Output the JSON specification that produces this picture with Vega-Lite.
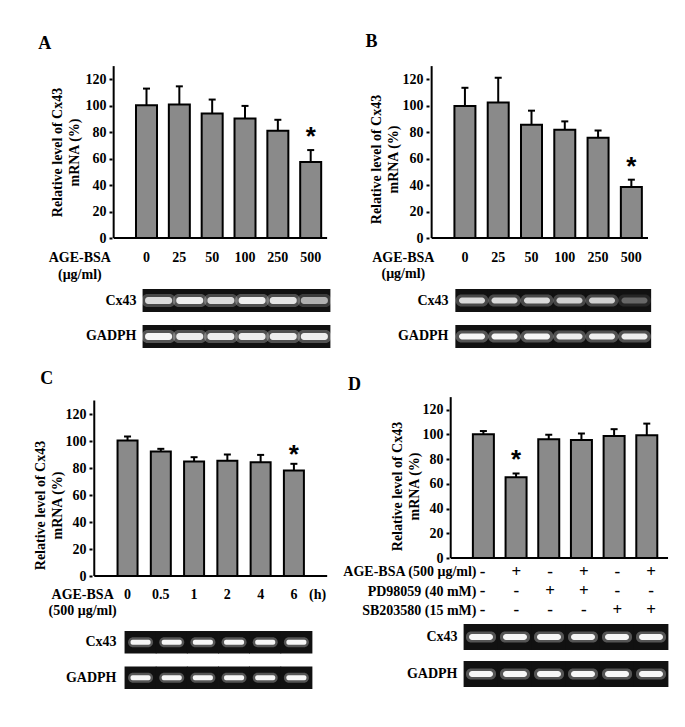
{
  "$schema": "https://vega.github.io/schema/vega-lite/v6.json",
  "background": "white",
  "autosize": {"type": "pad"},
  "padding": 0,
  "config": {
    "view": {"stroke": null},
    "font": "Liberation Serif",
    "axis": {"grid": false, "domainColor": "black", "domainWidth": 2, "tickColor": "black", "tickWidth": 2, "labelColor": "black", "labelFont": "Liberation Serif", "labelFontWeight": "bold", "labelOverlap": false, "titleColor": "black", "titleFont": "Liberation Serif", "titleFontWeight": "bold"},
    "text": {"font": "Liberation Serif", "fontWeight": "bold", "fontSize": 14, "color": "black"}
  },
  "datasets": {
    "barsA": [
      {"pos": 1, "label": "0", "mean": 100.4, "err": 113, "sig": ""},
      {"pos": 2, "label": "25", "mean": 100.9, "err": 114.7, "sig": ""},
      {"pos": 3, "label": "50", "mean": 94.1, "err": 104.7, "sig": ""},
      {"pos": 4, "label": "100", "mean": 90.4, "err": 99.9, "sig": ""},
      {"pos": 5, "label": "250", "mean": 81.1, "err": 89.4, "sig": ""},
      {"pos": 6, "label": "500", "mean": 57.5, "err": 66.5, "sig": "*"}
    ],
    "barsB": [
      {"pos": 1, "label": "0", "mean": 99.9, "err": 113.6, "sig": ""},
      {"pos": 2, "label": "25", "mean": 102.4, "err": 121.2, "sig": ""},
      {"pos": 3, "label": "50", "mean": 85.7, "err": 96.3, "sig": ""},
      {"pos": 4, "label": "100", "mean": 81.8, "err": 88.2, "sig": ""},
      {"pos": 5, "label": "250", "mean": 75.9, "err": 81.3, "sig": ""},
      {"pos": 6, "label": "500", "mean": 38.5, "err": 44.1, "sig": "*"}
    ],
    "barsC": [
      {"pos": 1, "label": "0", "mean": 100.3, "err": 103.3, "sig": ""},
      {"pos": 2, "label": "0.5", "mean": 92.2, "err": 94.2, "sig": ""},
      {"pos": 3, "label": "1", "mean": 84.8, "err": 88, "sig": ""},
      {"pos": 4, "label": "2", "mean": 85.3, "err": 90, "sig": ""},
      {"pos": 5, "label": "4", "mean": 84.3, "err": 89.7, "sig": ""},
      {"pos": 6, "label": "6", "mean": 78.2, "err": 83.1, "sig": "*"}
    ],
    "barsD": [
      {"pos": 1, "mean": 100.1, "err": 102.6, "sig": ""},
      {"pos": 2, "mean": 65.3, "err": 68.3, "sig": "*"},
      {"pos": 3, "mean": 96, "err": 99.6, "sig": ""},
      {"pos": 4, "mean": 95.3, "err": 100.6, "sig": ""},
      {"pos": 5, "mean": 98.6, "err": 104.1, "sig": ""},
      {"pos": 6, "mean": 99.1, "err": 108.6, "sig": ""}
    ],
    "treatD": [
      {"row": "AGE-BSA (500 μg/ml)", "pos": 1, "sign": "-"},
      {"row": "AGE-BSA (500 μg/ml)", "pos": 2, "sign": "+"},
      {"row": "AGE-BSA (500 μg/ml)", "pos": 3, "sign": "-"},
      {"row": "AGE-BSA (500 μg/ml)", "pos": 4, "sign": "+"},
      {"row": "AGE-BSA (500 μg/ml)", "pos": 5, "sign": "-"},
      {"row": "AGE-BSA (500 μg/ml)", "pos": 6, "sign": "+"},
      {"row": "PD98059 (40 mM)", "pos": 1, "sign": "-"},
      {"row": "PD98059 (40 mM)", "pos": 2, "sign": "-"},
      {"row": "PD98059 (40 mM)", "pos": 3, "sign": "+"},
      {"row": "PD98059 (40 mM)", "pos": 4, "sign": "+"},
      {"row": "PD98059 (40 mM)", "pos": 5, "sign": "-"},
      {"row": "PD98059 (40 mM)", "pos": 6, "sign": "-"},
      {"row": "SB203580 (15 mM)", "pos": 1, "sign": "-"},
      {"row": "SB203580 (15 mM)", "pos": 2, "sign": "-"},
      {"row": "SB203580 (15 mM)", "pos": 3, "sign": "-"},
      {"row": "SB203580 (15 mM)", "pos": 4, "sign": "-"},
      {"row": "SB203580 (15 mM)", "pos": 5, "sign": "+"},
      {"row": "SB203580 (15 mM)", "pos": 6, "sign": "+"}
    ],
    "gelA": [
      {"gene": "Cx43", "lane": 1, "intensity": 0.8}, {"gene": "Cx43", "lane": 2, "intensity": 0.9}, {"gene": "Cx43", "lane": 3, "intensity": 0.8},
      {"gene": "Cx43", "lane": 4, "intensity": 0.9}, {"gene": "Cx43", "lane": 5, "intensity": 0.85}, {"gene": "Cx43", "lane": 6, "intensity": 0.6},
      {"gene": "GADPH", "lane": 1, "intensity": 0.95}, {"gene": "GADPH", "lane": 2, "intensity": 0.9}, {"gene": "GADPH", "lane": 3, "intensity": 0.9},
      {"gene": "GADPH", "lane": 4, "intensity": 0.9}, {"gene": "GADPH", "lane": 5, "intensity": 0.9}, {"gene": "GADPH", "lane": 6, "intensity": 0.9}
    ],
    "gelB": [
      {"gene": "Cx43", "lane": 1, "intensity": 0.8}, {"gene": "Cx43", "lane": 2, "intensity": 0.8}, {"gene": "Cx43", "lane": 3, "intensity": 0.8},
      {"gene": "Cx43", "lane": 4, "intensity": 0.75}, {"gene": "Cx43", "lane": 5, "intensity": 0.75}, {"gene": "Cx43", "lane": 6, "intensity": 0.3},
      {"gene": "GADPH", "lane": 1, "intensity": 0.95}, {"gene": "GADPH", "lane": 2, "intensity": 0.95}, {"gene": "GADPH", "lane": 3, "intensity": 0.95},
      {"gene": "GADPH", "lane": 4, "intensity": 0.9}, {"gene": "GADPH", "lane": 5, "intensity": 0.9}, {"gene": "GADPH", "lane": 6, "intensity": 0.9}
    ],
    "gelC": [
      {"gene": "Cx43", "lane": 1, "intensity": 0.95}, {"gene": "Cx43", "lane": 2, "intensity": 0.95}, {"gene": "Cx43", "lane": 3, "intensity": 0.95},
      {"gene": "Cx43", "lane": 4, "intensity": 0.95}, {"gene": "Cx43", "lane": 5, "intensity": 0.95}, {"gene": "Cx43", "lane": 6, "intensity": 0.95},
      {"gene": "GADPH", "lane": 1, "intensity": 0.95}, {"gene": "GADPH", "lane": 2, "intensity": 0.95}, {"gene": "GADPH", "lane": 3, "intensity": 0.95},
      {"gene": "GADPH", "lane": 4, "intensity": 0.95}, {"gene": "GADPH", "lane": 5, "intensity": 0.95}, {"gene": "GADPH", "lane": 6, "intensity": 0.95}
    ],
    "gelD": [
      {"gene": "Cx43", "lane": 1, "intensity": 0.95}, {"gene": "Cx43", "lane": 2, "intensity": 0.95}, {"gene": "Cx43", "lane": 3, "intensity": 0.95},
      {"gene": "Cx43", "lane": 4, "intensity": 0.95}, {"gene": "Cx43", "lane": 5, "intensity": 0.95}, {"gene": "Cx43", "lane": 6, "intensity": 0.95},
      {"gene": "GADPH", "lane": 1, "intensity": 0.95}, {"gene": "GADPH", "lane": 2, "intensity": 0.95}, {"gene": "GADPH", "lane": 3, "intensity": 0.95},
      {"gene": "GADPH", "lane": 4, "intensity": 0.95}, {"gene": "GADPH", "lane": 5, "intensity": 0.95}, {"gene": "GADPH", "lane": 6, "intensity": 0.95}
    ]
  },
  "spacing": 12,
  "bounds": "full",
  "vconcat": [
    {
      "spacing": 15,
      "bounds": "full",
      "hconcat": [
        {
          "spacing": 51, "bounds": "flush",
          "vconcat": [
            {
              "width": 335, "height": 238,
              "data": {"name": "barsA"},
              "resolve": {"axis": {"y": "independent"}},
              "encoding": {"x": {"field": "pos", "type": "quantitative", "scale": {"domain": [-3.309, 6.588]}, "axis": null}},
              "layer": [
                {"mark": {"type": "bar", "orient": "vertical", "width": 21, "fill": "#8a8a8a", "stroke": "black", "strokeWidth": 2},
                 "encoding": {"y": {"field": "mean", "type": "quantitative", "scale": {"domain": [0, 177.88]}, "axis": {"orient": "left", "values": [0, 20, 40, 60, 80, 100, 120], "domain": false, "offset": -112, "title": ["Relative level of Cx43", "mRNA (%)"], "titleFontSize": 14, "titleLineHeight": 17, "titlePadding": 4, "titleY": 152, "labelFont": "Liberation Serif", "labelFontWeight": "bold", "labelFontSize": 14, "labelColor": "black", "labelPadding": 3, "labelOverlap": false, "tickSize": 3}}}},
                {"mark": {"type": "rule", "strokeWidth": 2, "color": "black"}, "encoding": {"y": {"field": "mean", "type": "quantitative", "axis": null}, "y2": {"field": "err"}}},
                {"mark": {"type": "tick", "orient": "horizontal", "size": 7, "thickness": 2, "color": "black", "opacity": 1}, "encoding": {"y": {"field": "err", "type": "quantitative", "axis": null}}},
                {"mark": {"type": "text", "font": "Liberation Sans", "fontSize": 26, "baseline": "alphabetic", "dy": -5}, "encoding": {"y": {"field": "err", "type": "quantitative", "axis": null}, "text": {"field": "sig"}}},
                {"mark": {"type": "text", "baseline": "alphabetic"}, "encoding": {"y": {"datum": -18.4, "type": "quantitative", "axis": null}, "text": {"field": "label"}}},
                {"transform": [{"filter": "datum.pos == 1"}], "mark": {"type": "rule", "strokeWidth": 2, "color": "black"}, "encoding": {"x": {"datum": 0, "type": "quantitative", "axis": null}, "y": {"datum": 0, "type": "quantitative", "axis": null}, "y2": {"datum": 130}}},
                {"transform": [{"filter": "datum.pos == 1"}], "mark": {"type": "rule", "strokeWidth": 2, "color": "black"}, "encoding": {"x": {"datum": 0, "type": "quantitative", "axis": null}, "x2": {"datum": 6.5}, "y": {"datum": 0, "type": "quantitative", "axis": null}}},
                {"transform": [{"filter": "datum.pos == 1"}], "mark": {"type": "text", "text": ["AGE-BSA", "(μg/ml)"], "lineHeight": 17, "baseline": "alphabetic"}, "encoding": {"x": {"datum": -1.03, "type": "quantitative", "axis": null}, "y": {"datum": -18.4, "type": "quantitative", "axis": null}}},
                {"transform": [{"filter": "datum.pos == 1"}], "mark": {"type": "text", "text": "A", "fontSize": 18, "baseline": "middle"}, "encoding": {"x": {"datum": -2.097, "type": "quantitative", "axis": null}, "y": {"datum": 146.5, "type": "quantitative", "axis": null}}}
              ]
            },
            {
              "width": 335, "height": 59,
              "data": {"name": "gelA"},
              "encoding": {
                "x": {"field": "lane", "type": "quantitative", "scale": {"domain": [-4.088, 6.661]}, "axis": null},
                "y": {"field": "gene", "type": "nominal", "scale": {"paddingInner": 0.36, "paddingOuter": 0}, "axis": {"title": null, "domain": false, "ticks": false, "labelFontSize": 14, "labelPadding": 4, "offset": -140}}
              },
              "layer": [
                {"mark": {"type": "tick", "orient": "vertical", "thickness": 32, "size": 23, "color": "#111111", "opacity": 1}},
                {"mark": {"type": "tick", "orient": "vertical", "thickness": 34, "size": 13, "color": "#ffffff", "cornerRadius": 6}, "encoding": {"opacity": {"field": "intensity", "type": "quantitative", "scale": {"domain": [0, 1], "range": [0, 0.3]}, "legend": null}}},
                {"mark": {"type": "tick", "orient": "vertical", "thickness": 27, "size": 7, "color": "#ffffff", "cornerRadius": 3, "opacity": 1}, "encoding": {"fillOpacity": {"field": "intensity", "type": "quantitative", "scale": {"domain": [0, 1], "range": [0, 1]}, "legend": null}}}
              ]
            }
          ]
        },
        {
          "spacing": 51, "bounds": "flush",
          "vconcat": [
            {
              "width": 335, "height": 238,
              "data": {"name": "barsB"},
              "resolve": {"axis": {"y": "independent"}},
              "encoding": {"x": {"field": "pos", "type": "quantitative", "scale": {"domain": [-2.3026, 7.4614]}, "axis": null}},
              "layer": [
                {"mark": {"type": "bar", "orient": "vertical", "width": 21, "fill": "#8a8a8a", "stroke": "black", "strokeWidth": 2},
                 "encoding": {"y": {"field": "mean", "type": "quantitative", "scale": {"domain": [0, 177.88]}, "axis": {"orient": "left", "values": [0, 20, 40, 60, 80, 100, 120], "domain": false, "offset": -79, "title": ["Relative level of Cx43", "mRNA (%)"], "titleFontSize": 14, "titleLineHeight": 17, "titlePadding": 2, "titleY": 159, "labelFont": "Liberation Serif", "labelFontWeight": "bold", "labelFontSize": 14, "labelColor": "black", "labelPadding": 3, "labelOverlap": false, "tickSize": 3}}}},
                {"mark": {"type": "rule", "strokeWidth": 2, "color": "black"}, "encoding": {"y": {"field": "mean", "type": "quantitative", "axis": null}, "y2": {"field": "err"}}},
                {"mark": {"type": "tick", "orient": "horizontal", "size": 7, "thickness": 2, "color": "black", "opacity": 1}, "encoding": {"y": {"field": "err", "type": "quantitative", "axis": null}}},
                {"mark": {"type": "text", "font": "Liberation Sans", "fontSize": 26, "baseline": "alphabetic", "dy": -5}, "encoding": {"y": {"field": "err", "type": "quantitative", "axis": null}, "text": {"field": "sig"}}},
                {"mark": {"type": "text", "baseline": "alphabetic"}, "encoding": {"y": {"datum": -18.4, "type": "quantitative", "axis": null}, "text": {"field": "label"}}},
                {"transform": [{"filter": "datum.pos == 1"}], "mark": {"type": "rule", "strokeWidth": 2, "color": "black"}, "encoding": {"x": {"datum": 0, "type": "quantitative", "axis": null}, "y": {"datum": 0, "type": "quantitative", "axis": null}, "y2": {"datum": 130}}},
                {"transform": [{"filter": "datum.pos == 1"}], "mark": {"type": "rule", "strokeWidth": 2, "color": "black"}, "encoding": {"x": {"datum": 0, "type": "quantitative", "axis": null}, "x2": {"datum": 6.5}, "y": {"datum": 0, "type": "quantitative", "axis": null}}},
                {"transform": [{"filter": "datum.pos == 1"}], "mark": {"type": "text", "text": ["AGE-BSA", "(μg/ml)"], "lineHeight": 16, "baseline": "alphabetic"}, "encoding": {"x": {"datum": -0.85, "type": "quantitative", "axis": null}, "y": {"datum": -18.4, "type": "quantitative", "axis": null}}},
                {"transform": [{"filter": "datum.pos == 1"}], "mark": {"type": "text", "text": "B", "fontSize": 18, "baseline": "middle"}, "encoding": {"x": {"datum": -1.807, "type": "quantitative", "axis": null}, "y": {"datum": 148, "type": "quantitative", "axis": null}}}
              ]
            },
            {
              "width": 335, "height": 59,
              "data": {"name": "gelB"},
              "encoding": {
                "x": {"field": "lane", "type": "quantitative", "scale": {"domain": [-2.754, 7.554]}, "axis": null},
                "y": {"field": "gene", "type": "nominal", "scale": {"paddingInner": 0.36, "paddingOuter": 0}, "axis": {"title": null, "domain": false, "ticks": false, "labelFontSize": 14, "labelPadding": 4, "offset": -102}}
              },
              "layer": [
                {"mark": {"type": "tick", "orient": "vertical", "thickness": 33.3, "size": 23, "color": "#111111", "opacity": 1}},
                {"mark": {"type": "tick", "orient": "vertical", "thickness": 33, "size": 12, "color": "#ffffff", "cornerRadius": 6}, "encoding": {"opacity": {"field": "intensity", "type": "quantitative", "scale": {"domain": [0, 1], "range": [0, 0.3]}, "legend": null}}},
                {"mark": {"type": "tick", "orient": "vertical", "thickness": 26, "size": 6, "color": "#ffffff", "cornerRadius": 3, "opacity": 1}, "encoding": {"fillOpacity": {"field": "intensity", "type": "quantitative", "scale": {"domain": [0, 1], "range": [0, 1]}, "legend": null}}}
              ]
            }
          ]
        }
      ]
    },
    {
      "spacing": 1,
      "bounds": "full",
      "hconcat": [
        {
          "spacing": 55, "bounds": "flush",
          "vconcat": [
            {
              "width": 337, "height": 216,
              "data": {"name": "barsC"},
              "resolve": {"axis": {"y": "independent"}},
              "encoding": {"x": {"field": "pos", "type": "quantitative", "scale": {"domain": [-2.683, 7.145]}, "axis": null}},
              "layer": [
                {"mark": {"type": "bar", "orient": "vertical", "width": 20, "fill": "#8a8a8a", "stroke": "black", "strokeWidth": 2},
                 "encoding": {"y": {"field": "mean", "type": "quantitative", "scale": {"domain": [0, 159.53]}, "axis": {"orient": "left", "values": [0, 20, 40, 60, 80, 100, 120], "domain": false, "offset": -92, "title": ["Relative level of Cx43", "mRNA (%)"], "titleFontSize": 14, "titleLineHeight": 17, "titlePadding": 1, "titleY": 145, "labelFont": "Liberation Serif", "labelFontWeight": "bold", "labelFontSize": 14, "labelColor": "black", "labelPadding": 3, "labelOverlap": false, "tickSize": 3}}}},
                {"mark": {"type": "rule", "strokeWidth": 2, "color": "black"}, "encoding": {"y": {"field": "mean", "type": "quantitative", "axis": null}, "y2": {"field": "err"}}},
                {"mark": {"type": "tick", "orient": "horizontal", "size": 7, "thickness": 2, "color": "black", "opacity": 1}, "encoding": {"y": {"field": "err", "type": "quantitative", "axis": null}}},
                {"mark": {"type": "text", "font": "Liberation Sans", "fontSize": 26, "baseline": "alphabetic", "dy": -1}, "encoding": {"y": {"field": "err", "type": "quantitative", "axis": null}, "text": {"field": "sig"}}},
                {"mark": {"type": "text", "baseline": "alphabetic"}, "encoding": {"y": {"datum": -16.7, "type": "quantitative", "axis": null}, "text": {"field": "label"}}},
                {"transform": [{"filter": "datum.pos == 1"}], "mark": {"type": "rule", "strokeWidth": 2, "color": "black"}, "encoding": {"x": {"datum": 0, "type": "quantitative", "axis": null}, "y": {"datum": 0, "type": "quantitative", "axis": null}, "y2": {"datum": 130}}},
                {"transform": [{"filter": "datum.pos == 1"}], "mark": {"type": "rule", "strokeWidth": 2, "color": "black"}, "encoding": {"x": {"datum": 0, "type": "quantitative", "axis": null}, "x2": {"datum": 7}, "y": {"datum": 0, "type": "quantitative", "axis": null}}},
                {"transform": [{"filter": "datum.pos == 1"}], "mark": {"type": "text", "text": ["AGE-BSA", "(500 μg/ml)"], "lineHeight": 16, "baseline": "alphabetic"}, "encoding": {"x": {"datum": -0.35, "type": "quantitative", "axis": null}, "y": {"datum": -16.7, "type": "quantitative", "axis": null}}},
                {"transform": [{"filter": "datum.pos == 1"}], "mark": {"type": "text", "text": "(h)", "baseline": "alphabetic"}, "encoding": {"x": {"datum": 6.71, "type": "quantitative", "axis": null}, "y": {"datum": -16.7, "type": "quantitative", "axis": null}}},
                {"transform": [{"filter": "datum.pos == 1"}], "mark": {"type": "text", "text": "C", "fontSize": 18, "baseline": "middle"}, "encoding": {"x": {"datum": -1.43, "type": "quantitative", "axis": null}, "y": {"datum": 146.2, "type": "quantitative", "axis": null}}}
              ]
            },
            {
              "width": 337, "height": 58,
              "data": {"name": "gelC"},
              "encoding": {
                "x": {"field": "lane", "type": "quantitative", "scale": {"domain": [-3.51, 7.303]}, "axis": null},
                "y": {"field": "gene", "type": "nominal", "scale": {"paddingInner": 0.366, "paddingOuter": 0}, "axis": {"title": null, "domain": false, "ticks": false, "labelFontSize": 14, "labelPadding": 4, "offset": -120}}
              },
              "layer": [
                {"mark": {"type": "tick", "orient": "vertical", "thickness": 32, "size": 22.5, "color": "#111111", "opacity": 1}},
                {"mark": {"type": "tick", "orient": "vertical", "thickness": 25, "size": 10, "color": "#ffffff", "cornerRadius": 5}, "encoding": {"opacity": {"field": "intensity", "type": "quantitative", "scale": {"domain": [0, 1], "range": [0, 0.3]}, "legend": null}}},
                {"mark": {"type": "tick", "orient": "vertical", "thickness": 20, "size": 5, "color": "#ffffff", "cornerRadius": 2, "opacity": 1}, "encoding": {"fillOpacity": {"field": "intensity", "type": "quantitative", "scale": {"domain": [0, 1], "range": [0, 1]}, "legend": null}}}
              ]
            }
          ]
        },
        {
          "spacing": 4, "bounds": "flush",
          "vconcat": [
            {
              "width": 337, "height": 198,
              "data": {"name": "barsD"},
              "resolve": {"axis": {"y": "independent"}},
              "encoding": {"x": {"field": "pos", "type": "quantitative", "scale": {"domain": [-3.2957, 6.7102]}, "axis": null}},
              "layer": [
                {"mark": {"type": "bar", "orient": "vertical", "width": 21, "fill": "#8a8a8a", "stroke": "black", "strokeWidth": 2},
                 "encoding": {"y": {"field": "mean", "type": "quantitative", "scale": {"domain": [0, 149.66]}, "axis": {"orient": "left", "values": [0, 20, 40, 60, 80, 100, 120], "domain": false, "offset": -111, "title": ["Relative level of Cx43", "mRNA (%)"], "titleFontSize": 14, "titleLineHeight": 17, "titlePadding": 1, "titleY": 126, "labelFont": "Liberation Serif", "labelFontWeight": "bold", "labelFontSize": 14, "labelColor": "black", "labelPadding": 3, "labelOverlap": false, "tickSize": 3}}}},
                {"mark": {"type": "rule", "strokeWidth": 2, "color": "black"}, "encoding": {"y": {"field": "mean", "type": "quantitative", "axis": null}, "y2": {"field": "err"}}},
                {"mark": {"type": "tick", "orient": "horizontal", "size": 7, "thickness": 2, "color": "black", "opacity": 1}, "encoding": {"y": {"field": "err", "type": "quantitative", "axis": null}}},
                {"mark": {"type": "text", "font": "Liberation Sans", "fontSize": 26, "baseline": "alphabetic", "dy": -5}, "encoding": {"y": {"field": "err", "type": "quantitative", "axis": null}, "text": {"field": "sig"}}},
                {"transform": [{"filter": "datum.pos == 1"}], "mark": {"type": "rule", "strokeWidth": 2, "color": "black"}, "encoding": {"x": {"datum": 0, "type": "quantitative", "axis": null}, "y": {"datum": 0, "type": "quantitative", "axis": null}, "y2": {"datum": 130}}},
                {"transform": [{"filter": "datum.pos == 1"}], "mark": {"type": "rule", "strokeWidth": 2, "color": "black"}, "encoding": {"x": {"datum": 0, "type": "quantitative", "axis": null}, "x2": {"datum": 6.65}, "y": {"datum": 0, "type": "quantitative", "axis": null}}},
                {"transform": [{"filter": "datum.pos == 1"}], "mark": {"type": "text", "text": "D", "fontSize": 18, "baseline": "middle"}, "encoding": {"x": {"datum": -2.94, "type": "quantitative", "axis": null}, "y": {"datum": 139.8, "type": "quantitative", "axis": null}}}
              ]
            },
            {
              "width": 337, "height": 58,
              "data": {"name": "treatD"},
              "mark": {"type": "text", "fontSize": 17, "baseline": "middle"},
              "encoding": {
                "x": {"field": "pos", "type": "quantitative", "scale": {"domain": [-3.2957, 6.7102]}, "axis": null},
                "y": {"field": "row", "type": "nominal", "sort": null, "scale": {"paddingInner": 0, "paddingOuter": 0}, "axis": {"title": null, "domain": false, "ticks": false, "labelFontSize": 14, "labelPadding": 4, "offset": -142}},
                "text": {"field": "sign"}
              }
            },
            {
              "width": 337, "height": 63,
              "data": {"name": "gelD"},
              "encoding": {
                "x": {"field": "lane", "type": "quantitative", "scale": {"domain": [-3.2059, 6.7059]}, "axis": null},
                "y": {"field": "gene", "type": "nominal", "scale": {"paddingInner": 0.297, "paddingOuter": 0}, "axis": {"title": null, "domain": false, "ticks": false, "labelFontSize": 14, "labelPadding": 4, "offset": -123}}
              },
              "layer": [
                {"mark": {"type": "tick", "orient": "vertical", "thickness": 34.8, "size": 26, "color": "#111111", "opacity": 1}},
                {"mark": {"type": "tick", "orient": "vertical", "thickness": 30, "size": 11, "color": "#ffffff", "cornerRadius": 5}, "encoding": {"opacity": {"field": "intensity", "type": "quantitative", "scale": {"domain": [0, 1], "range": [0, 0.3]}, "legend": null}}},
                {"mark": {"type": "tick", "orient": "vertical", "thickness": 24, "size": 6, "color": "#ffffff", "cornerRadius": 3, "opacity": 1}, "encoding": {"fillOpacity": {"field": "intensity", "type": "quantitative", "scale": {"domain": [0, 1], "range": [0, 1]}, "legend": null}}}
              ]
            }
          ]
        }
      ]
    }
  ]
}
